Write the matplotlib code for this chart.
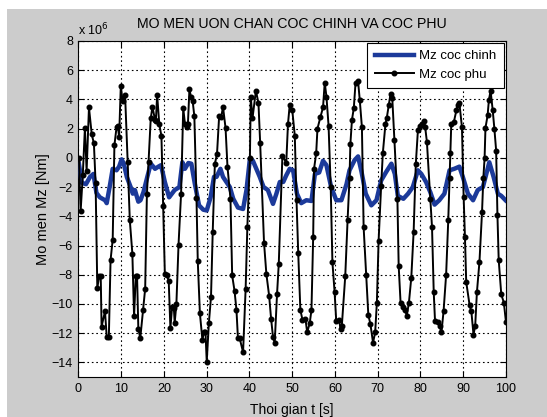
import matplotlib
matplotlib.use("Agg")
import matplotlib.pyplot as plt
from matplotlib.patches import Rectangle

plt.rcParams['font.family'] = ['Liberation Sans', 'DejaVu Sans']

# Mz coc phu (black, dots) - time [s], moment [x 1e6 Nm]
t_phu = [0.1, 0.5, 1.0, 1.5, 1.9, 2.45, 3.1, 3.6, 4.0, 4.4, 4.85, 5.2, 5.4, 6.2, 6.6, 7.1, 7.5, 8.0,
         8.4, 8.9, 9.2, 9.5, 9.9, 10.3, 10.9, 11.5, 12.0, 12.6, 13.0, 13.4, 13.7, 14.0, 14.45, 15.1, 15.6,
         16.0, 16.4, 16.9, 17.3, 17.9, 18.1, 18.4, 18.9, 19.4, 19.8, 20.2, 20.6, 21.1, 21.5, 21.9, 22.3,
         22.5, 22.9, 23.4, 24.0, 24.5, 24.9, 25.3, 25.6, 25.95, 26.3, 26.7, 27.1, 27.6, 27.9, 28.4, 29.0,
         29.3, 29.7, 30.0, 30.5, 31.0, 31.4, 31.9, 32.4, 32.9, 33.4, 33.8, 34.4, 34.85, 35.55, 35.95, 36.5,
         36.95, 37.3, 37.7, 38.5, 39.1, 39.5, 40.1, 40.3, 40.7, 41.5, 42.1, 42.5, 43.4, 43.95, 44.6, 45.05,
         45.5, 45.9, 46.45, 46.85, 47.7, 48.6, 49.0, 49.4, 50.0, 50.6, 51.0, 51.4, 51.9, 52.4, 53.1, 53.5,
         54.1, 54.5, 54.9, 55.1, 55.6, 55.9, 56.6, 57.2, 57.6, 58.0, 58.5, 59.0, 59.4, 59.9, 60.3, 60.95,
         61.3, 61.6, 62.4, 62.95, 63.4, 63.6, 63.97, 64.4, 64.8, 65.4, 65.8, 66.3, 66.7, 67.3, 67.8, 68.3,
         68.9, 69.4, 69.8, 70.2, 70.8, 71.2, 71.8, 72.1, 72.6, 73.0, 73.4, 73.9, 74.6, 74.9, 75.35, 75.9,
         76.4, 76.8, 77.3, 77.85, 78.4, 78.9, 79.4, 79.8, 80.3, 80.8, 81.1, 81.5, 82.3, 82.7, 83.1, 83.4,
         84.0, 84.5, 84.9, 85.4, 86.0, 86.5, 86.8, 87.0, 87.2, 87.8, 88.4, 88.7, 89.1, 89.7, 90.1, 90.4,
         90.7, 91.5, 91.9, 92.4, 92.8, 93.2, 93.8, 94.4, 94.7, 95.0, 95.2, 95.7, 96.0, 96.4, 96.9, 97.3,
         97.7, 98.0, 98.3, 98.9, 99.5, 100.0]
mz_phu = [0.0, -3.65, -1.2, 2.05, -0.9, 3.45, 1.6, 1.0, -1.7, -8.9, -8.1, -8.1, -11.55, -10.5, -12.25, -12.25, -7.0, -5.6,
          0.85, 2.1, 2.2, 1.4, 4.95, 3.9, 4.3, -0.25, -4.25, -6.55, -10.85, -8.1, -8.1, -11.7, -12.35, -10.4, -8.95,
          -2.5, -0.25, 2.7, 3.5, 2.6, 2.55, 4.3, 2.3, 1.5, -3.3, -7.95, -8.0, -8.4, -11.65, -10.2, -10.25,
          -11.3, -10.0, -5.95, -2.45, 3.4, 2.35, 2.1, 2.35, 4.7, 4.2, 3.9, 2.85, -2.75, -7.05, -10.65, -12.5,
          -11.9, -11.9, -13.95, -11.3, -9.5, -5.05, -0.4, 0.25, 2.85, 2.8, 3.5, 2.05, -0.6, -2.8, -8.05, -9.1,
          -10.4, -12.35, -12.35, -13.3, -8.95, -4.75, 0.0, 4.2, 2.7, 4.6, 3.75, 1.0, -5.8, -7.95, -9.45, -11.0,
          -12.25, -12.65, -9.3, -7.25, 0.15, -0.35, 2.3, 3.6, 3.3, 1.5, -2.9, -6.5, -10.4, -11.1, -11.05, -11.95,
          -11.3, -10.4, -5.4, -0.75, 0.3, 2.0, 2.8, 3.45, 5.15, 4.2, 2.2, -2.0, -7.15, -9.15, -11.2, -11.1,
          -11.7, -11.5, -8.1, -4.25, -1.4, 0.95, 2.6, 3.4, 5.1, 5.25, 3.95, 2.1, -4.75, -8.0, -10.75, -11.4,
          -12.65, -11.95, -9.9, -5.7, -1.9, 0.35, 2.3, 2.7, 3.65, 4.4, 4.1, 1.25, -2.8, -7.4, -9.95, -10.2,
          -10.4, -10.8, -9.9, -8.2, -5.05, -0.45, 1.9, 2.2, 2.35, 2.55, 2.1, 1.1, -2.8, -4.75, -9.2, -11.15,
          -11.25, -11.5, -11.95, -10.5, -8.0, -4.25, -1.4, 0.35, 2.3, 2.45, 3.25, 3.65, 3.75, 2.1, -2.7, -5.4,
          -8.5, -10.1, -10.5, -12.1, -11.5, -9.2, -7.1, -3.7, -1.4, 0.0, 2.05, 2.9, 3.95, 4.6, 3.25, 1.95,
          0.5, -3.9, -7.0, -9.35, -9.9, -11.25]

# Mz coc chinh (thick blue line)
t_chinh = [0.1, 0.75, 1.75, 2.7, 3.5, 4.2, 5.0, 6.2, 6.6, 7.4, 8.0, 8.9, 9.5, 10.1, 10.6, 11.3, 12.2,
           12.7, 13.2, 14.0, 14.5, 15.2, 16.1, 16.9, 17.5, 17.9, 18.7, 19.3, 20.2, 21.2, 22.5, 23.6, 24.3,
           24.9, 25.7, 26.4, 27.2, 28.2, 29.2, 30.0, 30.9, 31.7, 32.3, 33.2, 33.8, 34.6, 35.4, 36.2, 37.3,
           38.5, 39.3, 40.1, 40.8, 41.6, 42.4, 43.3, 44.3, 45.5, 46.3, 47.1, 47.9, 48.6, 49.4, 50.2, 51.1,
           52.1, 53.3, 54.5, 55.3, 56.3, 57.2, 58.0, 59.1, 60.3, 61.5, 62.7, 63.4, 64.6, 65.4, 66.2, 67.2,
           68.5, 69.7, 70.8, 72.0, 73.2, 74.0, 74.7, 76.0, 77.1, 78.2, 79.4, 80.2, 81.3, 82.3, 83.3, 84.4,
           85.6, 86.8, 87.9, 89.1, 89.9, 91.1, 92.3, 93.4, 94.6, 95.4, 96.1, 97.1, 98.1, 98.9, 99.9]
mz_chinh = [-0.4, -1.7, -1.8, -1.3, -1.1, -2.4, -2.7, -2.9, -3.1, -1.8, -0.75, -0.85, -0.6, -0.1, -0.4, -1.3, -2.0,
            -2.45, -2.2, -3.0, -2.9, -2.35, -1.3, -0.4, -0.6, -0.75, -0.6, -0.5, -1.65, -2.7, -2.2, -2.0, -0.3,
            -0.75, -0.35, -0.4, -1.75, -3.25, -3.55, -3.6, -2.7, -1.3, -1.3, -0.75, -1.3, -1.65, -2.0, -2.8, -3.4,
            -3.5, -2.2, -0.05, -0.2, -0.75, -1.3, -2.0, -2.2, -3.15, -2.45, -1.65, -1.65, -1.2, -0.75, -0.85, -2.45,
            -3.1, -2.9, -2.95, -1.1, -1.0, -0.2, -0.5, -2.0, -2.9, -2.9, -1.8, -0.85, -0.15, 0.1, -0.95, -2.45,
            -3.25, -2.9, -1.55, -0.95, -0.4, -1.1, -2.6, -2.8, -2.45, -2.0, -0.85, -1.1, -1.65, -2.35, -3.2, -2.9,
            -2.45, -0.85, -0.75, -0.6, -1.3, -2.45, -2.9, -2.2, -2.0, -1.1, -0.3, -1.3, -2.45, -2.6, -2.9]

x_ticks = list(range(0, 101, 10))
y_ticks = list(range(-14, 9, 2))

fig = plt.figure(figsize=(5.47, 4.17), dpi=100, facecolor='white')
# grey matlab window background, small white strip on top and left
fig.patches.append(Rectangle((7 / 547, 0), 1, 1 - 9 / 417, transform=fig.transFigure,
                             facecolor='#cccccc', edgecolor='none', zorder=-10))

ax = fig.add_axes([0.1435, 0.0959, 0.7815, 0.8058])
ax.set_facecolor('white')

ax.plot(t_chinh, mz_chinh, color='#1c3a9a', linewidth=3.2, label='Mz coc chinh', zorder=3)
ax.plot(t_phu, mz_phu, color='black', linewidth=1.4, marker='o', markersize=3.3,
        label='Mz coc phu', zorder=4)

ax.set_xlim(0, 100)
ax.set_ylim(-15, 8)
ax.set_xticks(x_ticks)
ax.set_yticks(y_ticks)
ax.grid(True, color='black', linestyle=(0, (1.5, 2.5)), linewidth=0.8)
ax.tick_params(direction='in', top=True, right=True, labelsize=9, length=4, pad=4)
for s in ax.spines.values():
    s.set_linewidth(0.8)

ax.set_title('MO MEN UON CHAN COC CHINH VA COC PHU', fontsize=10.2, pad=9)
ax.set_xlabel('Thoi gian t [s]', fontsize=10, labelpad=6)
ax.set_ylabel('Mo men Mz [Nm]', fontsize=10.5, labelpad=1)
ax.text(0.0, 1.008, 'x 10$^6$', transform=ax.transAxes, fontsize=9, ha='left', va='bottom')

leg = ax.legend(loc='upper right', fontsize=9.5, fancybox=False, framealpha=1,
                edgecolor='black', borderaxespad=0.15, handlelength=3.0, handletextpad=0.4,
                borderpad=0.55, labelspacing=0.45)
leg.get_frame().set_linewidth(0.8)

fig.savefig('out.png', dpi=100, facecolor=fig.get_facecolor())
